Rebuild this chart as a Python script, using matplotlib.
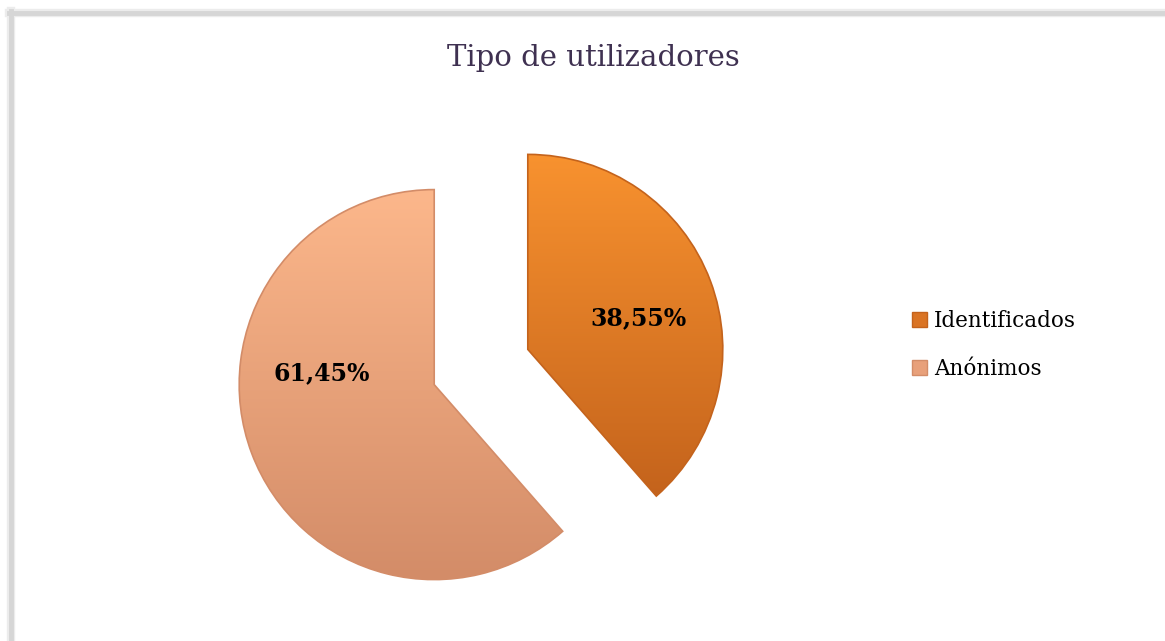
import numpy as np
import matplotlib.pyplot as plt
import matplotlib as mpl
from matplotlib.colors import LinearSegmentedColormap
from matplotlib.lines import Line2D
from matplotlib.patches import Patch

# dados
categorias = ["Identificados", "Anónimos"]
valores = [38.55, 61.45]
cores_topo = ["#F8922F", "#FCB78B"]
cores_base = ["#C4631C", "#D38C68"]
cores_legenda = ["#DA7424", "#E8A07A"]
titulo = "Tipo de utilizadores"

mpl.rcParams["font.family"] = ["DejaVu Serif"]

fig = plt.figure(figsize=(11.65, 6.41), dpi=100)
ax = fig.add_axes([0, 0, 1, 1])
ax.set_xlim(0, 1165)
ax.set_ylim(0, 641)
ax.axis("off")

# moldura com sombra
for lw, c in [(6, "#ececec"), (3.5, "#d6d6d6")]:
    fig.add_artist(Line2D([9 / 1165, 1], [1 - 13 / 641, 1 - 13 / 641], transform=fig.transFigure, color=c, lw=lw))
    fig.add_artist(Line2D([11 / 1165, 11 / 1165], [0, 1 - 11 / 641], transform=fig.transFigure, color=c, lw=lw))

# explode em unidades de dados (pixels)
wedges, _ = ax.pie(valores, colors=cores_legenda, startangle=90, counterclock=False,
                   explode=[50, 50], center=(481, 274), radius=195,
                   wedgeprops=dict(linewidth=1.2))

for i, w in enumerate(wedges):
    w.set_edgecolor(cores_base[i])
    bb = w.get_path().get_extents(w.get_transform() - ax.transData)
    cmap = LinearSegmentedColormap.from_list("g%d" % i, [cores_topo[i], cores_base[i]])
    grad = np.linspace(0, 1, 256).reshape(-1, 1)
    im = ax.imshow(grad, cmap=cmap, aspect="auto", origin="upper",
                   extent=[bb.x0, bb.x1, bb.y0, bb.y1], zorder=2)
    im.set_clip_path(w)
    w.set_zorder(3)
    w.set_facecolor("none")

# rótulos de percentagem
offsets = [(111, 31), (-112, 11)]
for i, w in enumerate(wedges):
    cx, cy = w.center
    ax.text(cx + offsets[i][0], cy + offsets[i][1], f"{valores[i]:.2f}%".replace(".", ","),
            ha="center", va="center", fontsize=17, fontweight="bold", color="black", zorder=5)

ax.set_xlim(0, 1165)
ax.set_ylim(0, 641)

fig.text(593 / 1165, 1 - 58 / 641, titulo, ha="center", va="center", fontsize=21, color="#3F3151")

handles = [Patch(facecolor=cores_legenda[i], edgecolor=cores_base[i]) for i in range(2)]
fig.legend(handles, categorias, loc="center left", bbox_to_anchor=(893 / 1165, 1 - 345 / 641),
           frameon=False, fontsize=15.5, handlelength=0.7, handleheight=0.7,
           handletextpad=0.3, labelspacing=1.2)

fig.savefig("out.png", dpi=100, facecolor="white")
